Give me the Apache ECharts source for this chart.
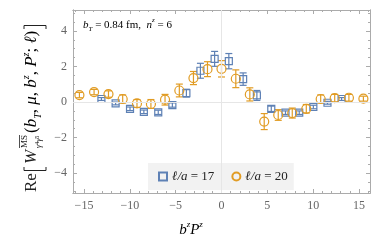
<!DOCTYPE html>
<html><head><meta charset="utf-8">
<script src="https://cdn.jsdelivr.net/npm/echarts@6/dist/echarts.min.js"></script>
<style>html,body{margin:0;padding:0;background:#fff}#c{width:382px;height:243px}</style>
</head><body><div id="c"></div>
<script>
// ---- data ----
const xMajor = [-15, -10, -5, 0, 5, 10, 15];
const xMinor = [-16,-14,-13,-12,-11,-9,-8,-7,-6,-4,-3,-2,-1,1,2,3,4,6,7,8,9,11,12,13,14,16];
const yMajor = [-4, -2, 0, 2, 4];
const yMinor = [-5,-4.5,-3.5,-3,-2.5,-1.5,-1,-0.5,0.5,1,1.5,2.5,3,3.5,4.5,5];

const x17 = [-13.1, -11.55, -9.98, -8.47, -6.9, -5.36, -3.83, -2.3, -0.75, 0.8, 2.36, 3.86, 5.43, 6.98, 8.48, 10.02, 11.56, 13.1];
const y17 = [0.17, -0.08, -0.38, -0.55, -0.58, -0.17, 0.5, 1.76, 2.43, 2.3, 1.29, 0.37, -0.38, -0.6, -0.6, -0.28, -0.04, 0.17];
const e17 = [0.08, 0.08, 0.1, 0.1, 0.12, 0.12, 0.22, 0.42, 0.42, 0.43, 0.35, 0.28, 0.15, 0.1, 0.1, 0.1, 0.08, 0.08];

const x20 = [-15.5, -13.9, -12.33, -10.78, -9.22, -7.7, -6.16, -4.6, -3.06, -1.53, 0, 1.56, 3.09, 4.66, 6.19, 7.72, 9.25, 10.82, 12.35, 13.9, 15.48];
const y20 = [0.39, 0.56, 0.45, 0.17, -0.08, -0.11, 0.13, 0.65, 1.35, 1.85, 1.87, 1.31, 0.43, -1.1, -0.73, -0.62, -0.38, 0.17, 0.22, 0.24, 0.19];
const e20 = [0.15, 0.15, 0.18, 0.23, 0.22, 0.25, 0.3, 0.36, 0.37, 0.42, 0.46, 0.5, 0.37, 0.45, 0.3, 0.28, 0.24, 0.23, 0.21, 0.19, 0.14];

const name17 = 'ℓ/a = 17';
const name20 = 'ℓ/a = 20';

// ---- styles ----
const BLUE = '#5e81b5', ORANGE = '#e19c24';
const FRAME = '#ababab', LABEL = '#666666';
const SERIF = '"Liberation Serif", "DejaVu Serif", serif';
const X_MIN = -16.2, X_MAX = 16.2, Y_MIN = -5.12, Y_MAX = 5.18;

const minus = v => String(v).replace('-', '\u2212');

function xAx(pos, ticks, len, labels) {
  return {
    type: 'value', position: pos, min: X_MIN, max: X_MAX,
    axisLine: { show: true, onZero: false, lineStyle: { color: FRAME, width: 1 } },
    axisTick: { show: true, inside: true, length: len, customValues: ticks, lineStyle: { color: FRAME, width: 1 } },
    axisLabel: { show: labels, customValues: ticks, formatter: minus, margin: 7,
      fontFamily: SERIF, fontSize: 12, color: LABEL },
    splitLine: { show: false }
  };
}
function yAx(pos, ticks, len, labels) {
  return {
    type: 'value', position: pos, min: Y_MIN, max: Y_MAX,
    axisLine: { show: true, onZero: false, lineStyle: { color: FRAME, width: 1 } },
    axisTick: { show: true, inside: true, length: len, customValues: ticks, lineStyle: { color: FRAME, width: 1 } },
    axisLabel: { show: labels, customValues: ticks, formatter: minus, margin: 6,
      fontFamily: SERIF, fontSize: 12, color: LABEL },
    splitLine: { show: false }
  };
}

function errRender(color) {
  return function (params, api) {
    const x = api.value(0), lo = api.value(1), hi = api.value(2);
    const p1 = api.coord([x, hi]), p2 = api.coord([x, lo]);
    const w = 3.5, st = { stroke: color, lineWidth: 1.2 };
    return { type: 'group', children: [
      { type: 'line', shape: { x1: p1[0], y1: p1[1], x2: p2[0], y2: p2[1] }, style: st },
      { type: 'line', shape: { x1: p1[0] - w, y1: p1[1], x2: p1[0] + w, y2: p1[1] }, style: st },
      { type: 'line', shape: { x1: p2[0] - w, y1: p2[1], x2: p2[0] + w, y2: p2[1] }, style: st }
    ]};
  };
}

const tok = (extra) => Object.assign({ fontFamily: SERIF, color: '#222' }, extra);

const chart = echarts.init(document.getElementById('c'), null, { renderer: 'canvas' });
chart.setOption({
  animation: false,
  backgroundColor: '#fff',
  grid: { left: 73, right: 12, top: 10, bottom: 50 },
  xAxis: [ xAx('bottom', xMajor, 4, true), xAx('top', xMajor, 4, false),
           xAx('bottom', xMinor, 2, false), xAx('top', xMinor, 2, false) ],
  yAxis: [ yAx('left', yMajor, 4, true), yAx('right', yMajor, 4, false),
           yAx('left', yMinor, 2, false), yAx('right', yMinor, 2, false) ],
  legend: {
    left: 148, top: 163, orient: 'horizontal',
    data: [name17, name20],
    backgroundColor: '#f2f2f2', borderWidth: 0,
    padding: [7, 6, 7, 10], itemGap: 17, itemWidth: 8, itemHeight: 8,
    formatter: function (n) { const p = n.split(' = '); return '{i|' + p[0] + '}{n| = ' + p[1] + '}'; },
    textStyle: { fontFamily: SERIF, fontSize: 13, color: '#222',
      rich: { i: { fontFamily: SERIF, fontSize: 13, fontStyle: 'italic', color: '#222' },
              n: { fontFamily: SERIF, fontSize: 13, color: '#222' } } }
  },
  series: [
    { type: 'custom', name: 'err17', renderItem: errRender(BLUE), xAxisIndex: 0, yAxisIndex: 0, z: 2,
      data: x17.map((x, i) => [x, y17[i] - e17[i], y17[i] + e17[i]]),
      markLine: { silent: true, symbol: 'none', label: { show: false },
        lineStyle: { color: '#e6e6e6', width: 1, type: 'solid' },
        data: [{ xAxis: 0 }, { yAxis: 0 }] } },
    { type: 'custom', name: 'err20', renderItem: errRender(ORANGE), xAxisIndex: 0, yAxisIndex: 0, z: 2,
      data: x20.map((x, i) => [x, y20[i] - e20[i], y20[i] + e20[i]]) },
    { type: 'scatter', name: name17, xAxisIndex: 0, yAxisIndex: 0, z: 3,
      symbol: 'rect', symbolSize: 7,
      itemStyle: { color: 'rgba(255,255,255,0)', borderColor: BLUE, borderWidth: 1.2, opacity: 1 },
      data: x17.map((x, i) => [x, y17[i]]) },
    { type: 'scatter', name: name20, xAxisIndex: 0, yAxisIndex: 0, z: 3,
      symbol: 'circle', symbolSize: 9,
      itemStyle: { color: 'rgba(255,255,255,0)', borderColor: ORANGE, borderWidth: 1.2, opacity: 1 },
      data: x20.map((x, i) => [x, y20[i]]) }
  ],
  graphic: [
    // annotation
    { type: 'text', left: 83, top: 17, style: {
        text: '{i|b}{s|T}{n| = 0.84 fm,  }{i|n}{p|z}{n| = 6}',
        rich: {
          i: tok({ fontSize: 11, fontStyle: 'italic', lineHeight: 16 }),
          n: tok({ fontSize: 11, lineHeight: 16 }),
          s: tok({ fontSize: 7, fontStyle: 'italic', verticalAlign: 'bottom', lineHeight: 9 }),
          p: tok({ fontSize: 7, fontStyle: 'italic', verticalAlign: 'top', lineHeight: 9 })
        } } },
    // x axis title
    { type: 'text', left: 'center', top: 220, style: {
        x: 0,
        text: '{i|b}{p|z}{i|P}{p|z}',
        rich: {
          i: tok({ fontSize: 15, fontStyle: 'italic', lineHeight: 20 }),
          p: tok({ fontSize: 9, fontStyle: 'italic', verticalAlign: 'top', lineHeight: 11 })
        } } },
    // y axis title (rotated)
    { type: 'group', x: 32, y: 192, rotation: Math.PI / 2, children: [
      { type: 'text', x: 0, y: 0, style: { text: 'Re', font: '17px ' + SERIF, fill: '#222', verticalAlign: 'middle' } },
      { type: 'polyline', shape: { points: [[25, -8], [21.5, -8], [21.5, 14], [25, 14]] }, style: { stroke: '#222', lineWidth: 1, fill: null } },
      { type: 'text', x: 28, y: 0, style: { text: 'W', font: 'italic 17px ' + SERIF, fill: '#222', verticalAlign: 'middle' } },
      { type: 'text', x: 44, y: -7, style: { text: 'MS', font: '9px ' + SERIF, fill: '#222', verticalAlign: 'middle' } },
      { type: 'line', shape: { x1: 44, y1: -12.5, x2: 57, y2: -12.5 }, style: { stroke: '#222', lineWidth: 0.8 } },
      { type: 'text', x: 44, y: 7, style: {
          text: '{g|γ}{s|4}{g|γ}{s|5}', verticalAlign: 'middle',
          rich: { g: tok({ fontSize: 8, fontStyle: 'italic', lineHeight: 10 }),
                  s: tok({ fontSize: 6, verticalAlign: 'top', lineHeight: 7 }) } } },
      { type: 'text', x: 59, y: 0, style: {
          text: '{n|(}{i|b}{s|T}{n|, }{i|μ}{n|, }{i|b}{p|z}{n|, }{i|P}{p|z}{n|; }{i|ℓ}{n|)}',
          verticalAlign: 'middle',
          rich: {
            n: tok({ fontSize: 17, lineHeight: 22 }),
            i: tok({ fontSize: 17, fontStyle: 'italic', lineHeight: 22 }),
            s: tok({ fontSize: 10, fontStyle: 'italic', verticalAlign: 'bottom', lineHeight: 12 }),
            p: tok({ fontSize: 10, fontStyle: 'italic', verticalAlign: 'top', lineHeight: 12 })
          } } },
      { type: 'polyline', shape: { points: [[163, -8], [166.5, -8], [166.5, 14], [163, 14]] }, style: { stroke: '#222', lineWidth: 1, fill: null } }
    ] }
  ]
});
</script></body></html>
